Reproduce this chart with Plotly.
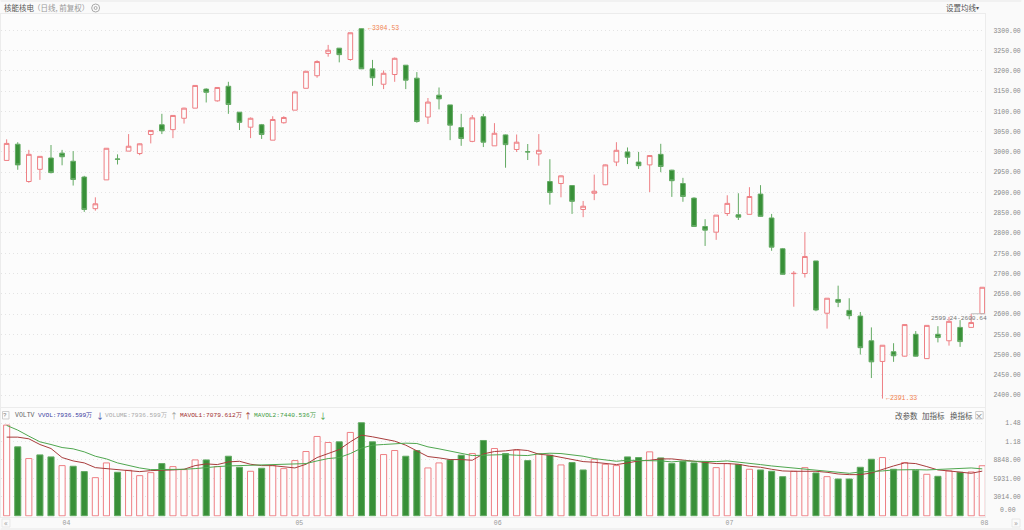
import plotly.graph_objects as go

opens = [2979, 3019, 2927, 2957, 2985, 2997, 2977, 2938, 2860, 2931, 2982.5, 3002, 2996, 3043, 3067, 3055, 3083, 3108, 3155, 3126,
         3162, 3098, 3061, 3067, 3029, 3072, 3103, 3157, 3188, 3243, 3256, 3228, 3304, 3205, 3167, 3191, 3214, 3182, 3086, 3140,
         3116, 3060, 3026, 3087, 3015, 3042, 3006, 3000.5, 2995, 2927, 2922, 2917, 2858, 2898, 2919, 2975, 3000, 2975, 2968, 2994,
         2955, 2922, 2886, 2816, 2802, 2848, 2845, 2846, 2896, 2837, 2761, 2699.6, 2700, 2731, 2602, 2636, 2609, 2595, 2534, 2483,
         2507, 2496, 2550, 2490, 2550, 2534, 2567, 2567, 2601]
highs = [3031, 3024, 3005, 2989, 3017, 3005, 3002, 2941, 2888, 3009, 2994, 3044, 3021, 3053, 3094, 3090, 3109, 3164, 3157, 3160,
         3173, 3098, 3085, 3069, 3088, 3088, 3151, 3199, 3226, 3264, 3256, 3294, 3304.53, 3227, 3201, 3233, 3214, 3197, 3133, 3159,
         3116, 3094, 3091, 3094, 3071, 3043, 3043, 3019.5, 3044, 2982, 2942, 2918, 2879, 2944, 2969, 3024, 3011, 3000, 2992, 3020,
         2956, 2936, 2888, 2834, 2844, 2893, 2898, 2913, 2918, 2847, 2763, 2706, 2802, 2731, 2639, 2670, 2639, 2605, 2567, 2523,
         2528, 2574, 2558, 2572, 2570, 2593, 2585, 2600.64, 2666]
lows = [2979, 2956, 2924, 2931, 2947, 2967, 2917, 2852, 2855, 2931, 2969, 3002, 2992, 3021, 3044, 3034, 3070, 3108, 3122, 3124,
        3094, 3054, 3034, 3032, 3029, 3070, 3103, 3157, 3183, 3235, 3221, 3225, 3205, 3163, 3155, 3173, 3155, 3072, 3069, 3105,
        3029, 3015, 3024, 3012, 3015, 2961, 3000, 2980, 2966, 2870, 2888, 2847, 2839, 2881, 2918, 2965, 2970, 2958, 2901, 2950,
        2889, 2877, 2816, 2768, 2783, 2842, 2832, 2846, 2840, 2756, 2697, 2618, 2690, 2607, 2564, 2617, 2587, 2500, 2442, 2391.33,
        2482, 2495, 2495, 2489, 2530, 2522, 2519, 2567, 2601]
closes = [3021, 2968, 2994, 2989, 2949, 2988, 2932, 2858, 2872, 3009, 2982, 3014, 3020, 3053, 3052, 3090, 3108, 3164, 3147, 3159,
          3117, 3073, 3083, 3043, 3080, 3085, 3148, 3199, 3223, 3251, 3240, 3294, 3205, 3183, 3194, 3231, 3177, 3075, 3123, 3131,
          3066, 3033, 3084, 3024, 3046, 3018, 3024, 3000, 3004, 2900, 2941, 2878, 2866, 2903, 2968, 3004, 2987, 2966, 2991, 2964,
          2929, 2890, 2816, 2807, 2844, 2873, 2839, 2890, 2841, 2765, 2698, 2700.4, 2742, 2610, 2639, 2629, 2596, 2517, 2482, 2523,
          2497, 2574, 2496, 2572, 2542, 2582, 2532, 2579, 2666]

# volume in 万
volumes = [14376, 10928, 9072, 9655, 9337, 7958, 7851, 7003, 6048, 8382, 6897, 7215, 6366, 6843, 8276, 7798, 7321, 8859, 8859, 7798,
           9443, 7692, 7056, 7533, 7958, 7480, 8753, 10186, 12573, 11618, 11724, 13209, 14748, 11724, 9708, 10345, 9443, 10345, 7586, 8382,
           8859, 9602, 9867, 11936, 10663, 9867, 10398, 8753, 9867, 9602, 8064, 8435, 7268, 8965, 8170, 7958, 9337, 9231, 10133, 9178,
           8276, 8594, 8382, 8541, 7639, 8276, 8117, 7374, 7268, 7056, 6207, 7056, 7639, 6790, 6207, 5836, 5836, 7692, 8965, 9231,
           7374, 8435, 7215, 6578, 6260, 7109, 6897, 6950, 7936.599]
volume_dirs = list("RGRGGRGGRRGRRRGRRRGRGGRGRRRRRRG"
                   "RGGRRGGRRGGRGRGRGRGRGGRRRGGRGG"
                   "GGGRRGRGGGRRGRGGGGRGRGRGRGRR")
mavol1 = [12467, 12467, 12202, 11300, 10663, 9231, 8700, 8382, 7639, 7480, 7215, 7162, 7003, 7162, 7162, 7268, 7374, 7958, 8223, 8117,
          8541, 8647, 8170, 7958, 7958, 7745, 7586, 8170, 9231, 9867, 10504, 11724, 12785, 12520, 12148, 11830, 11194, 10345, 9390, 9178,
          8912, 8912, 8806, 9814, 10186, 10292, 10504, 10345, 9761, 9602, 9231, 8912, 8594, 8488, 8276, 8117, 8382, 8700, 8806, 9019,
          9019, 8806, 8647, 8435, 8276, 8276, 8170, 7851, 7692, 7374, 7109, 7056, 7109, 7056, 6897, 6631, 6525, 6525, 6790, 7374,
          7904, 8382, 8276, 7798, 7268, 7109, 6897, 6737, 7079.612]
mavol2 = [14324, 13581, 12626, 11724, 11300, 10822, 10610, 10133, 9443, 9019, 8382, 7958, 7586, 7321, 7321, 7321, 7374, 7480, 7692, 7798,
          7904, 7958, 8011, 8011, 8011, 8117, 8117, 8276, 8700, 9072, 9231, 9867, 10716, 11194, 11300, 11459, 11512, 11459, 10928, 10610,
          10292, 9867, 9549, 9602, 9655, 9708, 9602, 9549, 9814, 9920, 9867, 9708, 9443, 9072, 8806, 8647, 8806, 8806, 8806, 8700,
          8541, 8700, 8647, 8594, 8594, 8700, 8541, 8329, 8117, 7904, 7745, 7533, 7480, 7321, 7162, 6950, 6737, 6950, 7003, 7109,
          7268, 7321, 7321, 7268, 7321, 7480, 7533, 7586, 7440.536]

index = list(range(len(closes)))
month_ticks = [5.4, 26.4, 44.3, 65.2, 88.2]
month_labels = ["04", "05", "06", "07", "08"]
price_ticks = list(range(2400, 3301, 50))
vol_ticks = [0, 3014, 5931, 8848, 11765, 14682]
# nbsp padding: the reference right-aligns these
vol_labels = ["", "3014.00", "5931.00", "8848.00", "\u00a0\u00a0\u00a01.18", "\u00a0\u00a0\u00a01.48"]

RED = "#ee7f84"
GREEN = "#389038"
GREEN_EDGE = "#63aa63"
GRID = "#e4e4e4"
BORDER = "#ececec"
MONO = "Liberation Mono"
CJK = "Noto Sans CJK SC"
W, H = 1024, 530


def py(y):
    return 1 - y / H


def px(x):
    return x / W


def label(text, x, y, color="#666", size=7.5, font=CJK, anchor="left"):
    return dict(text=text, x=px(x), y=py(y), xref="paper", yref="paper", showarrow=False,
                xanchor=anchor, yanchor="middle", font=dict(family=font, size=size, color=color))


def box(x0, y0, x1, y1, color="#cfcfcf", fill=None):
    return dict(type="rect", xref="paper", yref="paper", x0=px(x0), x1=px(x1), y0=py(y0), y1=py(y1),
                line=dict(color=color, width=1), fillcolor=fill, layer="above")


fig = go.Figure()
fig.add_trace(go.Candlestick(
    x=index, open=opens, high=highs, low=lows, close=closes, xaxis="x", yaxis="y", whiskerwidth=0,
    increasing=dict(line=dict(color=RED, width=1), fillcolor="#fdfdfd"),
    decreasing=dict(line=dict(color=GREEN_EDGE, width=1), fillcolor=GREEN),
    showlegend=False,
))
fig.add_trace(go.Bar(
    x=index, y=volumes, xaxis="x2", yaxis="y2", width=0.55,
    marker=dict(
        color=["#fdfdfd" if d == "R" else GREEN for d in volume_dirs],
        line=dict(color=[RED if d == "R" else GREEN_EDGE for d in volume_dirs], width=1),
    ),
    showlegend=False,
))
fig.add_trace(go.Scatter(x=index, y=mavol1, xaxis="x2", yaxis="y2", mode="lines",
                         line=dict(color="#a83c3c", width=1), showlegend=False))
fig.add_trace(go.Scatter(x=index, y=mavol2, xaxis="x2", yaxis="y2", mode="lines",
                         line=dict(color="#4fa64f", width=1), showlegend=False))

axis_common = dict(showline=True, linecolor=BORDER, linewidth=1, mirror=True, zeroline=False)
x_range = [-0.51, 88.26]
x_domain = [0, px(988)]

annotations = [
    label("核能核电", 1, 8, color="#555"),
    label("（日线, 前复权）", 30, 8, color="#999"),
    label("设置均线", 947, 8, color="#555"),
    label("▾", 977, 8, color="#555", size=6),
    label("VOLTV", 12, 415, color="#666", size=6.5, font=MONO),
    label("VVOL:7936.599万", 35, 415, color="#3b3b9e", size=6.2, font=MONO),
    label("↓", 99, 415, color="#3b3b9e", size=8, anchor="center"),
    label("VOLUME:7936.599万", 102, 415, color="#aaa", size=6.2, font=MONO),
    label("↑", 174, 415, color="#999", size=8, anchor="center"),
    label("MAVOL1:7079.612万", 178, 415, color="#a02c2c", size=6.2, font=MONO),
    label("↑", 248, 415, color="#a02c2c", size=8, anchor="center"),
    label("MAVOL2:7440.536万", 252, 415, color="#3d9a3d", size=6.2, font=MONO),
    label("↓", 323, 415, color="#3d9a3d", size=8, anchor="center"),
    label("?", 4.5, 415, color="#777", size=6, font=MONO, anchor="center"),
    label("改参数", 895, 415, color="#555"),
    label("加指标", 923, 415, color="#555"),
    label("换指标", 951, 415, color="#555"),
    label("×", 982, 415, color="#777", size=8, anchor="center"),
    label("0.00", 1021, 510.7, color="#888", size=6.5, font=MONO, anchor="right"),
    label("«", 5, 522.5, color="#999", size=8, anchor="center"),
    label("»", 1019, 522.5, color="#999", size=8, anchor="center"),
    label("2599.24-2600.64", 992, 318, color="#777", size=6.2, font=MONO, anchor="right"),
    dict(text="←3304.53", x=32.4, y=3304.53, xref="x", yref="y", showarrow=False, xanchor="left",
         font=dict(family=MONO, size=6.5, color="#f0814f")),
    dict(text="←2391.33", x=79.1, y=2391.33, xref="x", yref="y", showarrow=False, xanchor="left",
         font=dict(family=MONO, size=6.5, color="#f0814f")),
]

shapes = [
    dict(type="line", xref="x", yref="y", x0=87, x1=88.26, y0=2600.64, y1=2600.64,
         line=dict(color="#bbb", width=1)),
    dict(type="circle", xref="paper", yref="paper", x0=px(91), x1=px(99), y0=py(12), y1=py(4),
         line=dict(color="#aaa", width=1)),
    dict(type="circle", xref="paper", yref="paper", x0=px(93.5), x1=px(96.5), y0=py(9.5), y1=py(6.5),
         line=dict(color="#aaa", width=1)),
    box(1.5, 411.5, 8, 419),
    box(978.5, 411.5, 986, 419),
    box(1, 519, 9, 527, color="#e8e8e8", fill="rgba(0,0,0,0)"),
    box(1015, 519, 1023, 527, color="#e8e8e8", fill="rgba(0,0,0,0)"),
    box(0, 0, W, 1.5, color="#f1f1f1", fill="#f1f1f1"),
    box(0, 528.5, W, H, color="#f1f1f1", fill="#f1f1f1"),
]

grid_style = dict(gridcolor=GRID, griddash="1px,3px", gridwidth=1, ticklabelstandoff=6,
                  tickfont=dict(family=MONO, size=6.5, color="#888"))

fig.update_layout(
    width=W, height=H,
    margin=dict(l=0, r=0, t=0, b=0),
    paper_bgcolor="#fafafa",
    plot_bgcolor="#fcfcfc",
    boxgap=0.4,
    bargap=0.4,
    hovermode=False,
    xaxis=dict(domain=x_domain, range=x_range, anchor="y", showgrid=False, showticklabels=False,
               rangeslider=dict(visible=False), **axis_common),
    yaxis=dict(domain=[py(407), py(14)], range=[2370.6, 3340.3], side="right", anchor="x",
               tickvals=price_ticks, tickformat=".2f", **grid_style, **axis_common),
    xaxis2=dict(domain=x_domain, range=x_range, anchor="y2", showgrid=False, tickvals=month_ticks,
                ticktext=month_labels, tickfont=dict(family=MONO, size=6.5, color="#999"), **axis_common),
    yaxis2=dict(domain=[py(516.5), py(408)], range=[-106, 17082], side="right", anchor="x2",
                tickvals=vol_ticks, ticktext=vol_labels, **grid_style, **axis_common),
    annotations=annotations,
    shapes=shapes,
)

fig.write_html("out.html", config={"displayModeBar": False},
               post_script="document.body.style.margin='0';document.body.style.overflow='hidden';")
